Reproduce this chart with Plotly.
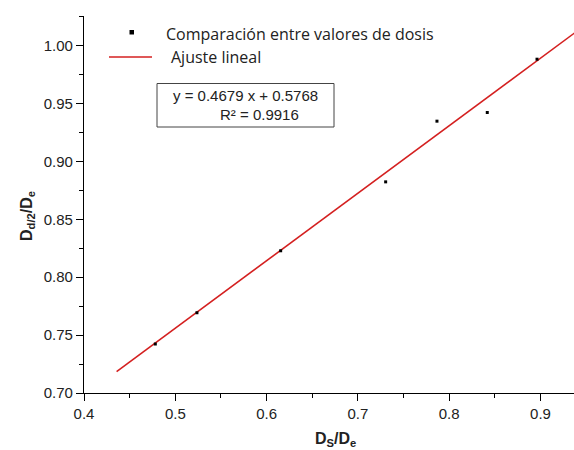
import plotly.graph_objects as go

# Data
ds_de = [0.4781, 0.5237, 0.6154, 0.7304, 0.7866, 0.8417, 0.8962]
dd2_de = [0.7423, 0.7693, 0.8228, 0.8823, 0.9347, 0.9422, 0.9882]

# Fitted line as drawn
fit_slope = 0.583
fit_intercept = 0.4644
fit_x = [0.4357, 0.95]
fit_y = [fit_slope * v + fit_intercept for v in fit_x]

legend_labels = ["Comparación entre valores de dosis", "Ajuste lineal"]
eq_text = "y = 0.4679 x + 0.5768"
r2_text = "R² = 0.9916"

W, H = 574, 450
L, R, T, B = 84, 0, 16, 57
pw, ph = W - L - R, H - T - B

def px(x):
    return (x - L) / pw

def py(y):
    return (H - B - y) / ph

fig = go.Figure()
fig.add_trace(go.Scatter(x=fit_x, y=fit_y, mode="lines",
                         line=dict(color="#d42020", width=1.6),
                         name=legend_labels[1], showlegend=False))
fig.add_trace(go.Scatter(x=ds_de, y=dd2_de, mode="markers",
                         marker=dict(symbol="square", size=3, color="black"),
                         name=legend_labels[0], showlegend=False))

axis_common = dict(showgrid=False, zeroline=False, showline=True, linecolor="black",
                   linewidth=1.2, ticks="outside", ticklen=7, tickwidth=1.2,
                   tickcolor="black", tickfont=dict(family="Liberation Sans, Arial", size=15, color="#222"),
                   mirror=False)

fig.update_xaxes(range=[0.4, 0.9367], dtick=0.1, tickformat=".1f",
                 minor=dict(ticks="outside", dtick=0.05, ticklen=4, tickcolor="black", tickwidth=1.2),
                 **axis_common)
fig.update_yaxes(range=[0.70, 1.0255], dtick=0.05, tickformat=".2f",
                 minor=dict(ticks="outside", dtick=0.025, ticklen=4, tickcolor="black", tickwidth=1.2),
                 **axis_common)

shapes = []
annotations = []
# legend: marker
shapes.append(dict(type="rect", xref="paper", yref="paper",
                   x0=px(129.5), x1=px(134), y0=py(34.5), y1=py(30),
                   fillcolor="black", line=dict(width=0)))
annotations.append(dict(xref="paper", yref="paper", x=px(164), y=py(34),
                        text=legend_labels[0], showarrow=False, xanchor="left", yanchor="middle",
                        font=dict(family="Open Sans", size=16, color="#222")))
# legend: line
shapes.append(dict(type="line", xref="paper", yref="paper",
                   x0=px(109), x1=px(152), y0=py(57), y1=py(57),
                   line=dict(color="#d42020", width=1.6)))
annotations.append(dict(xref="paper", yref="paper", x=px(169), y=py(57),
                        text=legend_labels[1], showarrow=False, xanchor="left", yanchor="middle",
                        font=dict(family="Open Sans", size=16, color="#222")))
# equation box
shapes.append(dict(type="rect", xref="paper", yref="paper",
                   x0=px(157), x1=px(334), y0=py(127), y1=py(83.5),
                   line=dict(color="#444", width=1), fillcolor="rgba(0,0,0,0)"))
annotations.append(dict(xref="paper", yref="paper", x=px(171), y=py(96),
                        text=eq_text, showarrow=False, xanchor="left", yanchor="middle",
                        font=dict(family="Liberation Sans, Arial", size=15, color="#222")))
annotations.append(dict(xref="paper", yref="paper", x=px(218), y=py(115),
                        text=r2_text, showarrow=False, xanchor="left", yanchor="middle",
                        font=dict(family="Liberation Sans, Arial", size=15, color="#222")))
# axis titles
annotations.append(dict(xref="paper", yref="paper", x=px(335), y=py(439),
                        text="<b>D<sub>S</sub>/D<sub>e</sub></b>", showarrow=False,
                        xanchor="center", yanchor="middle",
                        font=dict(family="Liberation Sans, Arial", size=16, color="#222")))
annotations.append(dict(xref="paper", yref="paper", x=px(27), y=py(216),
                        text="<b>D<sub>d/2</sub>/D<sub>e</sub></b>", showarrow=False,
                        textangle=-90, xanchor="center", yanchor="middle",
                        font=dict(family="Liberation Sans, Arial", size=16, color="#222")))

fig.update_layout(width=W, height=H, margin=dict(l=L, r=R, t=T, b=B),
                  plot_bgcolor="white", paper_bgcolor="white",
                  shapes=shapes, annotations=annotations, showlegend=False)

fig.write_html("out.html")
